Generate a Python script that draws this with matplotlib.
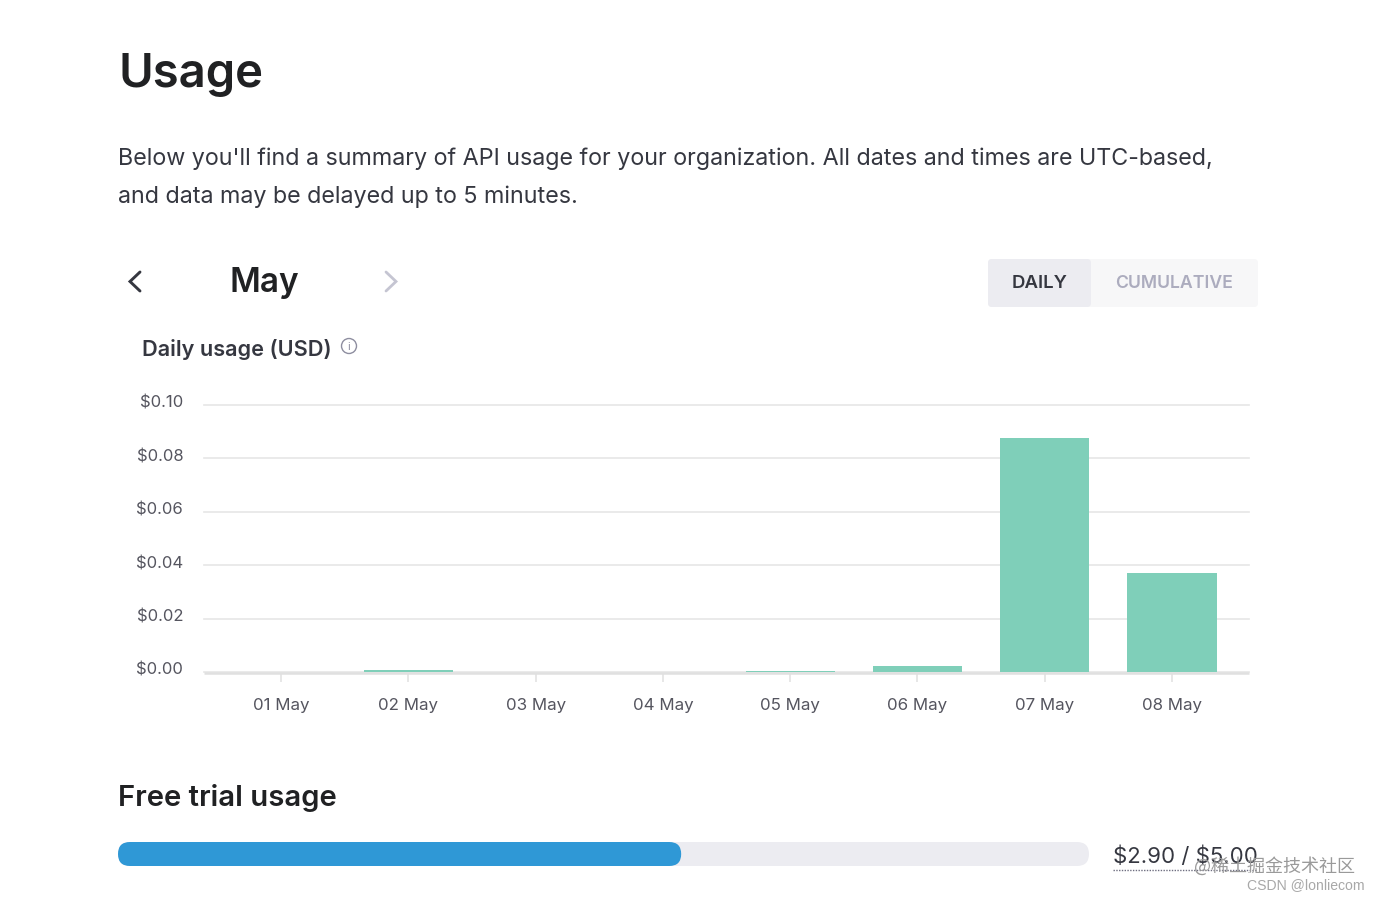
import matplotlib
matplotlib.use("Agg")
import matplotlib.pyplot as plt
from matplotlib.patches import FancyBboxPatch, Circle
from matplotlib.transforms import ScaledTranslation

days = ["01 May", "02 May", "03 May", "04 May", "05 May", "06 May", "07 May", "08 May"]
usage = [0.0, 0.0009, 0.0, 0.0, 0.0004, 0.0023, 0.0878, 0.0371]
y_ticks = [0.0, 0.02, 0.04, 0.06, 0.08, 0.10]
y_labels = ["$0.00", "$0.02", "$0.04", "$0.06", "$0.08", "$0.10"]
used = 2.90
limit = 5.00

plt.rcParams['font.family'] = ['Inter', 'Noto Sans', 'DejaVu Sans']
plt.rcParams['text.parse_math'] = False
W, H = 1380, 900
fig = plt.figure(figsize=(W/100, H/100), dpi=100, facecolor='white')

ui = fig.add_axes([0, 0, 1, 1])
ui.set_xlim(0, W); ui.set_ylim(H, 0); ui.axis('off')

def txt(x, y, s, size, color, weight='normal', ha='left', family=None):
    kw = {'family': family} if family else {}
    ui.text(x, y, s, fontsize=size, color=color, fontweight=weight, ha=ha, va='center', **kw)

dark = '#202123'
body = '#353740'
txt(118, 75, "Usage", 34, dark, 'semibold')
txt(118, 159, "Below you'll find a summary of API usage for your organization. All dates and times are UTC-based,", 16.77, body)
txt(118, 197, "and data may be delayed up to 5 minutes.", 16.77, body)
txt(229, 283, "May", 24, dark, 'semibold')
txt(142, 349, "Daily usage (USD)", 15.6, body, 'semibold')

ui.plot([140, 130, 140], [272, 281.5, 291], color=body, lw=2.1, solid_capstyle='round', solid_joinstyle='miter')
ui.plot([386, 396, 386], [272, 281.5, 291], color='#c5c5d2', lw=2.0, solid_capstyle='round', solid_joinstyle='miter')
ui.add_patch(Circle((349, 346), 7.5, fill=False, ec='#8e8ea0', lw=1))
ui.text(349, 346.5, "i", fontsize=8, color='#8e8ea0', ha='center', va='center')

ui.add_patch(FancyBboxPatch((988, 259), 270, 48, boxstyle="round,pad=0,rounding_size=4", fc='#f7f7f8', ec='none'))
ui.add_patch(FancyBboxPatch((988, 259), 103, 48, boxstyle="round,pad=0,rounding_size=4", fc='#ececf1', ec='none'))
txt(1039.5, 283, "DAILY", 13.4, body, 'semibold', 'center')
txt(1174, 283, "CUMULATIVE", 12.7, '#acacbe', 'semibold', 'center')

txt(118, 798, "Free trial usage", 21.1, dark, 'semibold')
bar_x, bar_w, bar_y, bar_h = 118, 971, 842, 24
ui.add_patch(FancyBboxPatch((bar_x, bar_y), bar_w, bar_h, boxstyle=f"round,pad=0,rounding_size={bar_h/2}", fc='#ececf1', ec='none'))
ui.add_patch(FancyBboxPatch((bar_x, bar_y), bar_w*used/limit, bar_h, boxstyle=f"round,pad=0,rounding_size={bar_h/2}", fc='#2f98d6', ec='none'))
txt(1113, 857, f"${used:.2f} / ${limit:.2f}", 16, body)
ui.plot([1113, 1257], [870, 870], color='#6e6e80', lw=1, ls=(0, (1, 1)))
txt(1355, 866, "@稀土掘金技术社区", 13, '#9a9a9a', ha='right', family=['Noto Sans CJK SC', 'DejaVu Sans'])
txt(1365, 885, "CSDN @lonliecom", 10.1, '#a8a8a8', ha='right', family=['Liberation Sans'])

x0, x1, y0, y1 = 204, 1249, 672, 405
ax = fig.add_axes([x0/W, 1-y0/H, (x1-x0)/W, (y0-y1)/H], facecolor='none')
xs = list(range(len(days)))
ax.bar(xs, usage, width=0.70, color='#7fcfb9', zorder=3)
ax.set_xlim(-0.605, 7.605)
ax.set_ylim(0, 0.10)
ax.set_yticks(y_ticks, y_labels)
ax.set_xticks(xs, days)
ax.set_axisbelow(True)
ax.grid(axis='y', color='#e6e6e6', lw=1.2)
for line in ax.get_ygridlines():
    line.set_clip_on(False)
for s in ['top', 'right', 'left']:
    ax.spines[s].set_visible(False)
ax.spines['bottom'].set_color('#e0e0e0')
ax.spines['bottom'].set_linewidth(1.8)
ax.spines['bottom'].set_capstyle('butt')
ax.spines['bottom'].set_position(('outward', 0.8))
ax.tick_params(axis='y', length=0, pad=15, labelsize=12, labelcolor='#55555f')
ax.tick_params(axis='x', length=6.5, width=1.1, color='#e0e0e0', pad=11.7, labelsize=12.2, labelcolor='#55555f')
up = ScaledTranslation(0, 1.5/100, fig.dpi_scale_trans)
for lbl in ax.get_yticklabels():
    lbl.set_verticalalignment('center')
    lbl.set_transform(lbl.get_transform() + up)
fig.savefig("out.png", dpi=100, facecolor='white')
